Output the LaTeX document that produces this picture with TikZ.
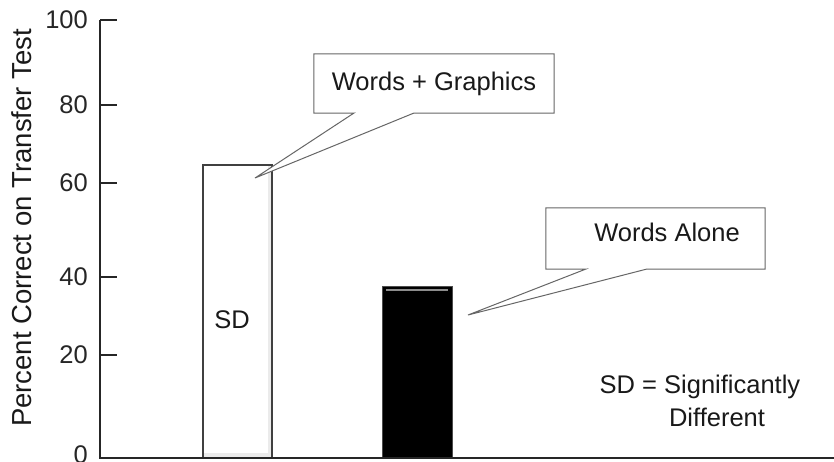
\documentclass[tikz,border=0pt]{standalone}
\usepackage{fontspec}
\setmainfont{Liberation Sans}
\begin{document}
\begin{tikzpicture}[x=1pt,y=-1pt,
  axisline/.style={line width=2.6pt,draw=black!85},
  ticklbl/.style={anchor=east,font=\fontsize{25.5}{27}\selectfont,text=black!85,inner sep=0pt},
  calloutline/.style={draw=black!60,line width=1pt,fill=white},
  calltext/.style={font=\fontsize{25.5}{27}\selectfont,text=black!90,inner sep=0pt},
  plain/.style={font=\fontsize{25.5}{27}\selectfont,text=black!90,inner sep=0pt}]
\useasboundingbox (0,0) rectangle (834,461);
\fill[white] (0,0) rectangle (834,461);
% axes
\coordinate (ytop) at (100,20);
\coordinate (orig) at (100,458);
\coordinate (xend) at (834,458);
\draw[axisline] (ytop) -- (orig) -- (xend);
% ticks
\foreach \v/\y in {100/20,80/105,60/183,40/277,20/355,0/455}{
  \coordinate (t\v) at (100,\y);
  \node[ticklbl] (l\v) at (88,\y) {\v};
}
\foreach \v in {100,80,60,40,20}{
  \draw[axisline] (t\v) -- ++(17,0);
}
% y label
\node[plain,rotate=90,font=\fontsize{27.5}{29}\selectfont] (ylabel) at (22,228) {Percent Correct on Transfer Test};
% white bar
\fill[black!8] (203,165) rectangle (272,457);
\fill[white] (204,166) rectangle (268,453);
\draw[draw=black!75,line width=1.8pt] (203,457) -- (203,165) -- (272,165) -- (272,457);
\node[plain] (sd) at (232,320) {SD};
% black bar
\fill[black] (382,286) rectangle (452,457);
\draw[draw=black!45,line width=1.5pt] (386,290) -- (448,290);
\draw[draw=black!70,line width=1pt] (382,457) -- (382,286) -- (452,286) -- (452,457);
% callout 1
\node[minimum width=240pt,minimum height=59pt,inner sep=0pt] (cb1) at (434,83.5) {};
\coordinate (tip1) at (255,178);
\path[calloutline] (cb1.north west) -- (cb1.north east) -- (cb1.south east)
  -- (414,113) -- (tip1) -- (354,113) -- (cb1.south west) -- cycle;
\node[calltext] (ct1) at (cb1.center) {Words + Graphics};
% callout 2
\node[minimum width=219pt,minimum height=61pt,inner sep=0pt] (cb2) at (655.5,238.5) {};
\coordinate (tip2) at (468,315);
\path[calloutline] (cb2.north west) -- (cb2.north east) -- (cb2.south east)
  -- (647,269) -- (tip2) -- (586,269) -- (cb2.south west) -- cycle;
\node[calltext] (ct2) at (667,232) {Words Alone};
% legend note
\node[plain] (sdnote) at (700,387) {SD = Significantly};
\node[plain] (diff) at (717,417) {Different};
\draw[axisline] (orig) -- (xend);
\end{tikzpicture}
\end{document}
